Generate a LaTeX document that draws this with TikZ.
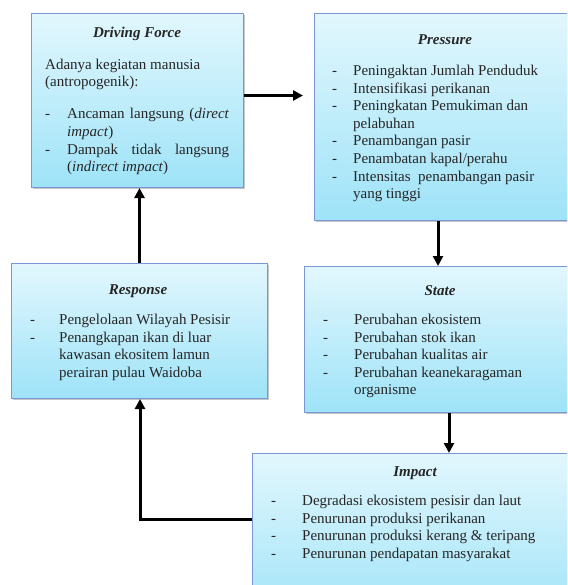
\documentclass[tikz,border=0pt]{standalone}
\usepackage{fontspec}
\setmainfont{Liberation Serif}
\usetikzlibrary{arrows.meta,shadows,calc}
\definecolor{boxtop}{RGB}{226,247,253}
\definecolor{boxbot}{RGB}{158,227,248}
\definecolor{boxline}{RGB}{122,150,212}
\tikzset{
  box/.style={draw=boxline, line width=1pt, top color=boxtop, bottom color=boxbot,
    inner sep=0pt, anchor=north west,
    drop shadow={shadow xshift=1.5pt, shadow yshift=-1.5pt, opacity=0.45, fill=gray}},
  txt/.style={inner sep=0pt, anchor=base west, font=\fontsize{15}{17.6}\selectfont, text=black!85},
  ttl/.style={inner sep=0pt, anchor=base, font=\fontsize{15}{17.6}\selectfont\bfseries\itshape, text=black!85},
  arr/.style={line width=3pt, -{Triangle[length=10pt,width=10pt]}}
}
\begin{document}
\begin{tikzpicture}[x=1pt,y=-1pt]
\useasboundingbox (0,0) rectangle (567,585);
\clip (0,0) rectangle (567,585);
% boxes
\node[box, minimum width=212pt, minimum height=174pt] (df) at (31,13) {};
\node[box, minimum width=262pt, minimum height=207pt] (pr) at (314,13) {};
\node[box, minimum width=256pt, minimum height=135pt] (re) at (11,263) {};
\node[box, minimum width=272pt, minimum height=146pt] (st) at (304,266) {};
\node[box, minimum width=326pt, minimum height=170pt] (im) at (252,453) {};
% Driving force
\node[ttl] (dft) at (137,38) {Driving Force};
\node[txt] (df1) at (45,70) {Adanya kegiatan manusia};
\node[txt] (df2) at (45,87) {(antropogenik):};
\node[txt] (dfl) at (45,119) {\begin{tabular}[t]{@{}p{22pt}@{}l@{}}
-&\makebox[162pt][s]{Ancaman langsung (\textit{direct}}\\
 &\textit{impact})\\
-&\makebox[162pt][s]{Dampak tidak langsung}\\
 &(\textit{indirect impact})
\end{tabular}};
% Pressure
\node[ttl] (prt) at (445,45) {Pressure};
\node[txt] (prl) at (332,75.5) {\begin{tabular}[t]{@{}p{21pt}@{}l@{}}
-&Peningaktan Jumlah Penduduk\\
-&Intensifikasi perikanan\\
-&Peningkatan Pemukiman dan\\
 &pelabuhan\\
-&Penambangan pasir\\
-&Penambatan kapal/perahu\\
-&Intensitas\ \ penambangan pasir\\
 &yang tinggi
\end{tabular}};
% Response
\node[ttl] (ret) at (138,294) {Response};
\node[txt] (rel) at (30,324.5) {\begin{tabular}[t]{@{}p{29pt}@{}l@{}}
-&Pengelolaan Wilayah Pesisir\\
-&Penangkapan ikan di luar\\
 &kawasan ekositem lamun\\
 &perairan pulau Waidoba
\end{tabular}};
% State
\node[ttl] (stt) at (440,295) {State};
\node[txt] (stl) at (323,324.5) {\begin{tabular}[t]{@{}p{31pt}@{}l@{}}
-&Perubahan ekosistem\\
-&Perubahan stok ikan\\
-&Perubahan kualitas air\\
-&Perubahan keanekaragaman\\
 &organisme
\end{tabular}};
% Impact
\node[ttl] (imt) at (415,476) {Impact};
\node[txt] (iml) at (271,505.5) {\begin{tabular}[t]{@{}p{31pt}@{}l@{}}
-&Degradasi ekosistem pesisir dan laut\\
-&Penurunan produksi perikanan\\
-&Penurunan produksi kerang \& teripang\\
-&Penurunan pendapatan masyarakat
\end{tabular}};
% connectors
\draw[arr, shorten >=11pt] ([yshift=5pt]df.east) -- ([yshift=5pt]df.east -| pr.west);
\draw[arr] ([xshift=124pt]pr.south west) -- ([xshift=124pt]pr.south west |- st.north);
\draw[arr] ([xshift=145pt]st.south west) -- ([xshift=145pt]st.south west |- im.north);
\coordinate (c1) at (140,519);
\draw[arr] (im.west |- c1) -- (c1) -- (c1 |- re.south);
\draw[arr] (re.north) -- (re.north |- df.south);
\end{tikzpicture}
\end{document}
